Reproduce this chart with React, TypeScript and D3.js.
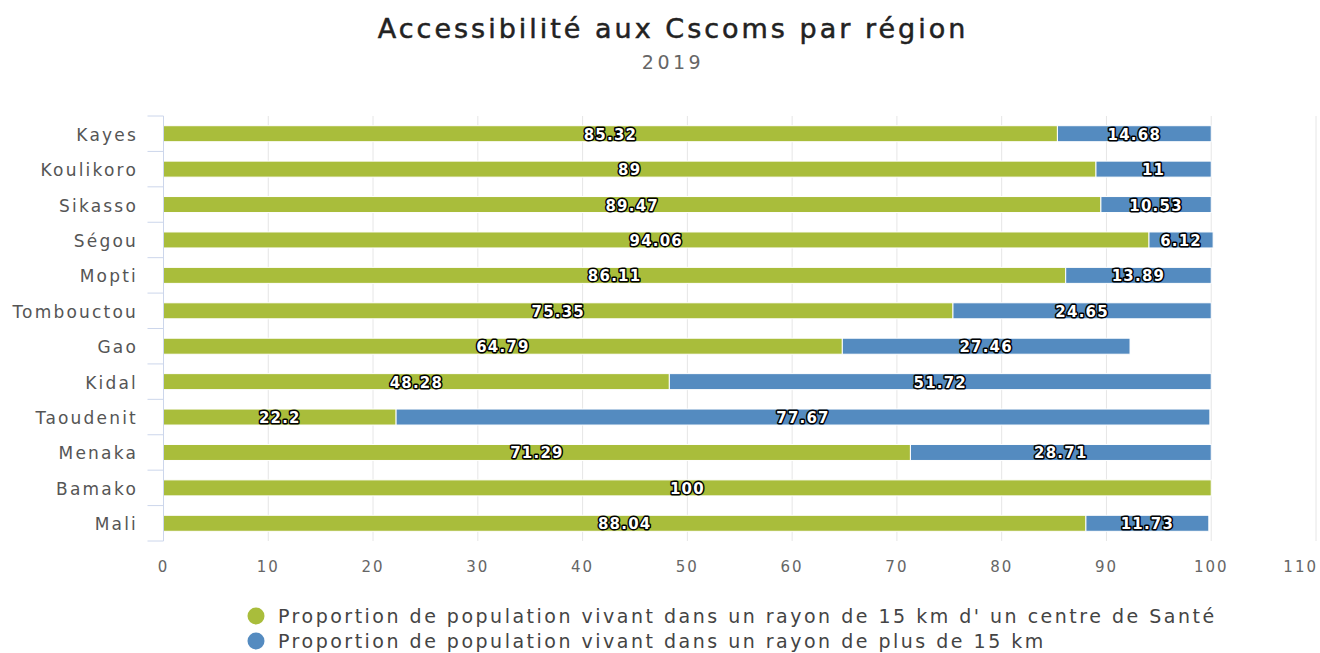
import React from "react";
import * as d3 from "d3";

const regions = ["Kayes", "Koulikoro", "Sikasso", "Ségou", "Mopti", "Tombouctou", "Gao", "Kidal", "Taoudenit", "Menaka", "Bamako", "Mali"];
const within15 = [85.32, 89, 89.47, 94.06, 86.11, 75.35, 64.79, 48.28, 22.2, 71.29, 100, 88.04];
const beyond15 = [14.68, 11, 10.53, 6.12, 13.89, 24.65, 27.46, 51.72, 77.67, 28.71, 0, 11.73];
const seriesNames = [
  "Proportion de population vivant dans un rayon de 15 km d' un centre de Santé",
  "Proportion de population vivant dans un rayon de plus de 15 km",
];
const xTicks = [0, 10, 20, 30, 40, 50, 60, 70, 80, 90, 100, 110];

const colors = ["#a9bd3b", "#548bc0"];
const font = "DejaVu Sans";

export default function App() {
  const width = 1320;
  const height = 653;
  const margin = { top: 116, left: 163.5, right: 4, bottom: 112 };

  const x = d3.scaleLinear().domain([0, 110]).range([margin.left, width - margin.right]);
  const y = d3.scaleBand().domain(regions).range([margin.top, height - margin.bottom]);
  const barH = 16;

  const rows = regions.map((r, i) => ({ region: r, values: [within15[i], beyond15[i]] }));
  const stack = d3.stack<any>().keys(["0", "1"]).value((d, k) => d.values[+k]);
  const series = stack(rows);

  const boundaries = d3.range(regions.length + 1).map((i) => margin.top + i * y.step());

  return (
    <svg width={width} height={height} style={{ position: "absolute", left: 0, top: 0, background: "#fff", fontFamily: font }}>
      <text x={673} y={38} textAnchor="middle" fontSize={27} fill="#222" stroke="#222" strokeWidth={0.5} letterSpacing={3}>
        Accessibilité aux Cscoms par région
      </text>
      <text x={673} y={69} textAnchor="middle" fontSize={19} fill="#666" letterSpacing={3.5}>
        2019
      </text>

      {xTicks.map((t) => (
        <line key={t} x1={x(t)} x2={x(t)} y1={margin.top} y2={height - margin.bottom} stroke="#e6e6e6" strokeWidth={1} />
      ))}

      {series.map((s, si) => (
        <g key={si} fill={colors[si]}>
          {s.map((d, i) =>
            d[1] - d[0] > 0 ? (
              <rect
                key={i}
                x={x(d[0])}
                y={(y(d.data.region) as number) + y.bandwidth() / 2 - barH / 2}
                width={x(d[1]) - x(d[0])}
                height={barH}
                stroke="#fff"
                strokeWidth={1}
              />
            ) : null
          )}
        </g>
      ))}

      {series.map((s, si) => (
        <g key={"l" + si}>
          {s.map((d, i) =>
            d[1] - d[0] > 0 ? (
              <text
                key={i}
                x={x((d[0] + d[1]) / 2)}
                y={(y(d.data.region) as number) + y.bandwidth() / 2 + 6}
                textAnchor="middle"
                fontSize={15}
                fontWeight="bold"
                fill="#fff"
                stroke="#000"
                strokeWidth={3}
                strokeLinejoin="round"
                paintOrder="stroke"
                letterSpacing={1.2}
              >
                {d.data.values[si]}
              </text>
            ) : null
          )}
        </g>
      ))}

      <line x1={margin.left} x2={margin.left} y1={margin.top} y2={height - margin.bottom} stroke="#ccd6eb" />
      {boundaries.map((b, i) => (
        <line key={i} x1={margin.left - 16} x2={margin.left} y1={b} y2={b} stroke="#ccd6eb" />
      ))}

      {regions.map((r) => (
        <text key={r} x={138} y={(y(r) as number) + y.bandwidth() / 2 + 7} textAnchor="end" fontSize={17} fill="#555" letterSpacing={2.2}>
          {r}
        </text>
      ))}

      {xTicks.map((t, i) => (
        <text
          key={t}
          x={i === xTicks.length - 1 ? width - 2 : x(t)}
          y={572}
          textAnchor={i === xTicks.length - 1 ? "end" : "middle"}
          fontSize={15}
          fill="#666"
          letterSpacing={2}
        >
          {t}
        </text>
      ))}

      {seriesNames.map((n, i) => (
        <g key={n}>
          <circle cx={256} cy={616 + i * 25} r={8.5} fill={colors[i]} />
          <text x={278} y={623 + i * 25} fontSize={19} fill="#444" letterSpacing={2.5}>
            {n}
          </text>
        </g>
      ))}
    </svg>
  );
}
